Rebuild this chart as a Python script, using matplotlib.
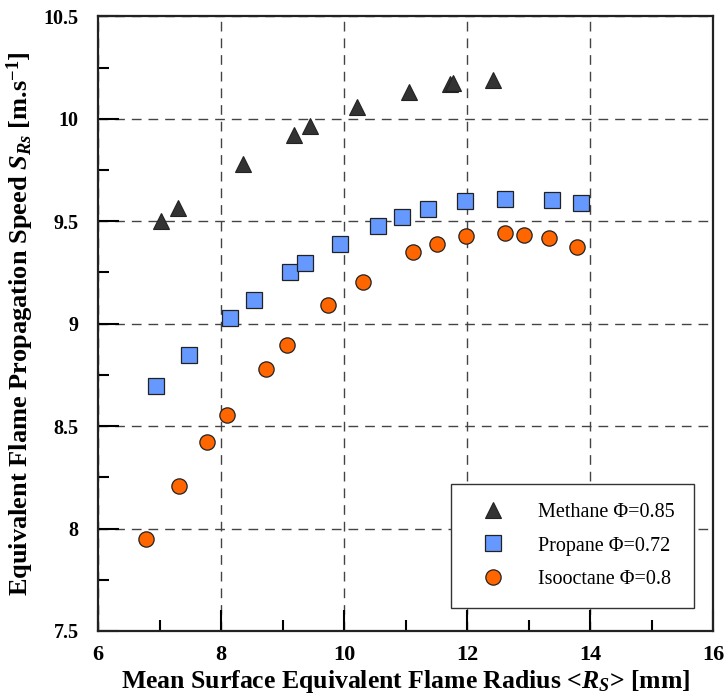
import matplotlib
matplotlib.use('Agg')
import matplotlib.pyplot as plt
from matplotlib.ticker import MultipleLocator

# ── Data ─────────────────────────────────────────────────────────────────────
methane_r = [7.02, 7.30, 8.35, 9.18, 9.45, 10.21, 11.05, 11.72, 11.78, 12.42]
methane_s = [9.50, 9.565, 9.78, 9.92, 9.966, 10.06, 10.13, 10.17, 10.174, 10.19]

propane_r = [6.95, 7.48, 8.15, 8.53, 9.12, 9.36, 9.93, 10.56, 10.94, 11.36,
             11.97, 12.61, 13.38, 13.85]
propane_s = [8.694, 8.845, 9.03, 9.117, 9.25, 9.296, 9.389, 9.478, 9.519, 9.561,
             9.597, 9.611, 9.606, 9.587]

isooctane_r = [6.78, 7.32, 7.78, 8.09, 8.73, 9.07, 9.74, 10.31, 11.12, 11.51,
               11.98, 12.61, 12.92, 13.33, 13.79]
isooctane_s = [7.951, 8.21, 8.421, 8.553, 8.78, 8.898, 9.089, 9.206, 9.348, 9.389,
               9.426, 9.442, 9.434, 9.416, 9.374]

labels = ['Methane \u03a6=0.85', 'Propane \u03a6=0.72', 'Isooctane \u03a6=0.8']

x_ticks = [6, 8, 10, 12, 14, 16]
y_ticks = [7.5, 8, 8.5, 9, 9.5, 10, 10.5]
y_ticklabels = ['7.5', '8', '8.5', '9', '9.5', '10', '10.5']

# ── Style ────────────────────────────────────────────────────────────────────
plt.rcParams['font.family'] = ['Liberation Serif', 'DejaVu Serif']
plt.rcParams['mathtext.fontset'] = 'custom'
plt.rcParams['mathtext.rm'] = 'Liberation Serif:bold'
plt.rcParams['mathtext.it'] = 'Liberation Serif:italic:bold'
plt.rcParams['mathtext.bf'] = 'Liberation Serif:bold'

fig = plt.figure(figsize=(7.27, 6.96), dpi=100)
ax = fig.add_axes([0.1348, 0.0934, 0.846, 0.883])

ax.plot(methane_r, methane_s, linestyle='none', marker='^', markersize=12,
        color='#333333', markeredgecolor='#222222', markeredgewidth=0.8,
        label=labels[0], zorder=3)
ax.plot(propane_r, propane_s, linestyle='none', marker='s', markersize=11,
        color='#6699ff', markeredgecolor='#222222', markeredgewidth=0.9,
        label=labels[1], zorder=3)
ax.plot(isooctane_r, isooctane_s, linestyle='none', marker='o', markersize=11,
        color='#ff6600', markeredgecolor='#222222', markeredgewidth=0.9,
        label=labels[2], zorder=3)

ax.set_xlim(6, 16)
ax.set_ylim(7.5, 10.5)
ax.set_xticks(x_ticks)
ax.set_xticklabels([str(v) for v in x_ticks], fontweight='bold', fontsize=16)
ax.set_yticks(y_ticks)
ax.set_yticklabels(y_ticklabels, fontweight='bold', fontsize=14.5)
ax.xaxis.set_minor_locator(MultipleLocator(1))
ax.yaxis.set_minor_locator(MultipleLocator(0.25))

ax.tick_params(which='major', direction='in', length=15, width=1.5)
ax.tick_params(axis='x', which='major', pad=10)
ax.tick_params(axis='y', which='major', pad=14)
ax.tick_params(which='minor', direction='in', length=8, width=1.5)

for sp in ax.spines.values():
    sp.set_linewidth(1.6)
    sp.set_color('#222222')

ax.grid(True, which='major', linestyle=(0, (7, 5)), linewidth=1.0,
        color='#444444', zorder=1)

ax.set_xlabel('Mean Surface Equivalent Flame Radius <$R_S$> [mm]',
              fontsize=18.5, fontweight='bold', labelpad=2)
ax.set_ylabel('Equivalent Flame Propagation Speed $S_{Rs}$ [m.s$^{\\mathbf{-1}}$]',
              fontsize=19, fontweight='bold', labelpad=5)

leg = ax.legend(loc='lower right', bbox_to_anchor=(0.969, 0.037),
                borderaxespad=0, fancybox=False, framealpha=1,
                edgecolor='#333333', fontsize=14.5, handletextpad=1.1,
                borderpad=0.95, labelspacing=0.72, handlelength=2.3)
leg.get_frame().set_linewidth(1.0)

fig.savefig('out.png', dpi=100)
